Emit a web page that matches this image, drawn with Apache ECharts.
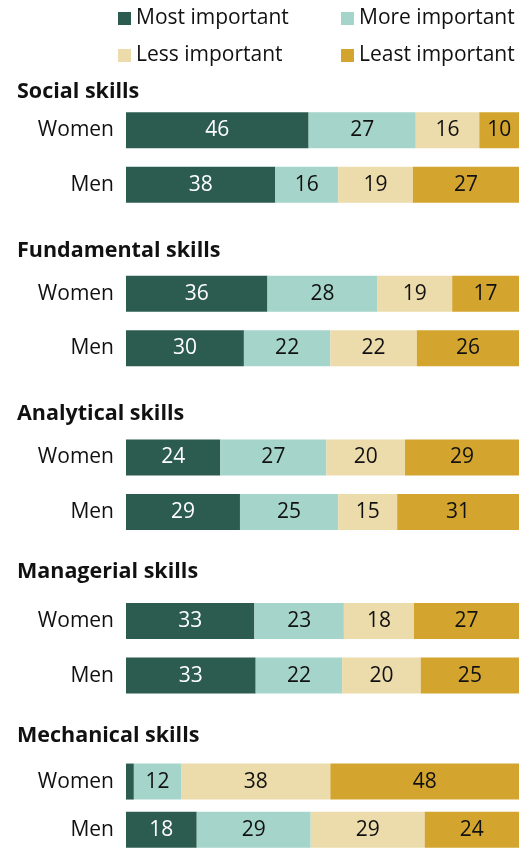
<!DOCTYPE html>
<html><head><meta charset="utf-8">
<script src="https://cdn.jsdelivr.net/npm/echarts@6/dist/echarts.min.js"></script>
<style>html,body{margin:0;padding:0;background:#fff}#c{width:529px;height:854px}</style>
</head><body><div id="c"></div>
<script>
const groups = ['Social skills','Fundamental skills','Analytical skills','Managerial skills','Mechanical skills'];
const rows = ['Women','Men'];
// values ordered: group1 Women, group1 Men, group2 Women, ...
const mostImportant  = [46,38,36,30,24,29,33,33,2,18];
const moreImportant  = [27,16,28,22,27,25,23,22,12,29];
const lessImportant  = [16,19,19,22,20,15,18,20,38,29];
const leastImportant = [10,27,17,26,29,31,27,25,48,24];
const seriesNames = ['Most important','More important','Less important','Least important'];
const seriesValues = [mostImportant, moreImportant, lessImportant, leastImportant];

const colors = ['#2c5b4f','#a5d5ca','#eddcab','#d3a52f'];
const labelColors = ['#ffffff','#111111','#111111','#111111'];
const FONT = 'Open Sans';

const firstTop = 103, slot = 54.5, groupStep = 163.6;
const titleGap = [22, 27, 27, 33, 33];
const grids = [], xAxes = [], yAxes = [], titles = [], series = [];

groups.forEach((g, gi) => {
  const top = firstTop + gi * groupStep;
  grids.push({left: 126, right: 10, top: top, height: slot * 2});
  xAxes.push({gridIndex: gi, type: 'value', min: 0, max: 100, show: false});
  yAxes.push({gridIndex: gi, type: 'category', data: rows, inverse: true,
    axisLine: {show: false}, axisTick: {show: false},
    axisLabel: {fontFamily: FONT, fontSize: 21, color: '#111', margin: 12}});
  titles.push({text: g, left: 12, top: top - 5 - titleGap[gi],
    textStyle: {fontFamily: FONT, fontWeight: 'bold', fontSize: 21.5, color: '#111'}});
  seriesNames.forEach((name, si) => {
    const data = rows.map((r, ri) => {
      const idx = gi * 2 + ri;
      const total = seriesValues.reduce((s, arr) => s + arr[idx], 0);
      const raw = seriesValues[si][idx];
      return {value: raw / total * 100, raw: raw};
    });
    series.push({
      name: name, type: 'bar', stack: 'g' + gi, xAxisIndex: gi, yAxisIndex: gi,
      barWidth: 36, data: data, itemStyle: {color: colors[si]},
      label: {show: true, position: 'inside', fontFamily: FONT, fontSize: 21,
        color: labelColors[si],
        formatter: p => p.data.raw >= 5 ? String(p.data.raw) : ''},
      emphasis: {disabled: true}, animation: false
    });
  });
});

const legendPos = [[118, 8], [341, 8], [118, 45], [341, 45]];
const legends = seriesNames.map((n, i) => ({
  data: [n], left: legendPos[i][0], top: legendPos[i][1], icon: 'rect', padding: 0,
  itemWidth: 13, itemHeight: 13, selectedMode: false,
  textStyle: {fontFamily: FONT, fontSize: 21, color: '#111'}
}));

const chart = echarts.init(document.getElementById('c'));
chart.setOption({
  animation: false,
  title: titles, legend: legends,
  grid: grids, xAxis: xAxes, yAxis: yAxes, series: series
});
</script></body></html>
